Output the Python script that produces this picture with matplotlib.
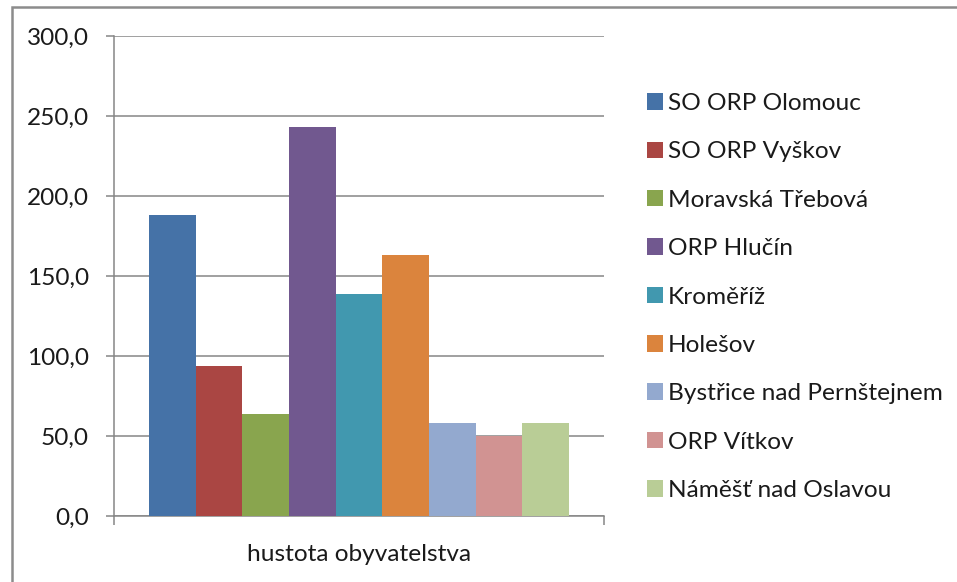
import numpy as np
import matplotlib.pyplot as plt
from matplotlib.patches import Rectangle

plt.rcParams['font.family'] = ['Lato', 'DejaVu Sans']

series = ['SO ORP Olomouc', 'SO ORP Vyškov', 'Moravská Třebová', 'ORP Hlučín',
          'Kroměříž', 'Holešov', 'Bystřice nad Pernštejnem', 'ORP Vítkov',
          'Náměšť nad Oslavou']
values = [188.0, 94.0, 64.0, 243.0, 139.0, 163.0, 58.0, 50.0, 58.0]
colors = ['#4572A7', '#AA4643', '#89A54E', '#71588F', '#4198AF',
          '#DB843D', '#93A9CF', '#D19392', '#B9CD96']
category = 'hustota obyvatelstva'
yticks = [0, 50, 100, 150, 200, 250, 300]

W, H = 957, 582
fs = 17.6
fig = plt.figure(figsize=(W / 100, H / 100), dpi=100)
ax = fig.add_axes([114 / W, (H - 516) / H, 490 / W, 480 / H])

n = len(series)
w = 1.0 / (n + 1.5)
for i, (name, v, c) in enumerate(zip(series, values, colors)):
    ax.bar((i - (n - 1) / 2) * w, v, width=w, color=c, label=name,
           edgecolor='none', zorder=3)

grid = '#868686'
ax.set_xlim(-0.5, 0.5)
ax.set_ylim(0, 300)
ax.set_yticks(yticks)
ax.set_yticklabels([f'{t:.1f}'.replace('.', ',') for t in yticks])
ax.yaxis.grid(True, color=grid, lw=1.1, zorder=0)
ax.set_xticks([0])
ax.set_xticklabels([category])
ax.set_xticks([-0.5, 0.5], minor=True)
ax.tick_params(axis='x', which='major', length=0, pad=20, labelsize=fs,
               labelcolor='#1a1a1a')
ax.tick_params(axis='x', which='minor', length=6.5, width=1.1, color=grid)
ax.tick_params(axis='y', length=6, width=1.1, color=grid, pad=12,
               labelsize=fs, labelcolor='#1a1a1a')
for s in ['top', 'right']:
    ax.spines[s].set_visible(False)
for s in ['left', 'bottom']:
    ax.spines[s].set_color(grid)
    ax.spines[s].set_linewidth(1.1)

leg = ax.legend(loc='upper left', bbox_to_anchor=(647 / W, (H - 93) / H),
                bbox_transform=fig.transFigure, frameon=False,
                fontsize=fs, handlelength=0.66, handleheight=0.66,
                handletextpad=0.2, labelspacing=1.12, borderpad=0,
                borderaxespad=0)
for t in leg.get_texts():
    t.set_color('#1a1a1a')

# chart area border (cut off at right and bottom in the screenshot)
fig.add_artist(Rectangle((12 / W, -0.1), 2, (H - 7) / H + 0.1,
                         transform=fig.transFigure, fill=False,
                         edgecolor='#8c8c8c', lw=1.8))

fig.savefig('out.png', dpi=100)
